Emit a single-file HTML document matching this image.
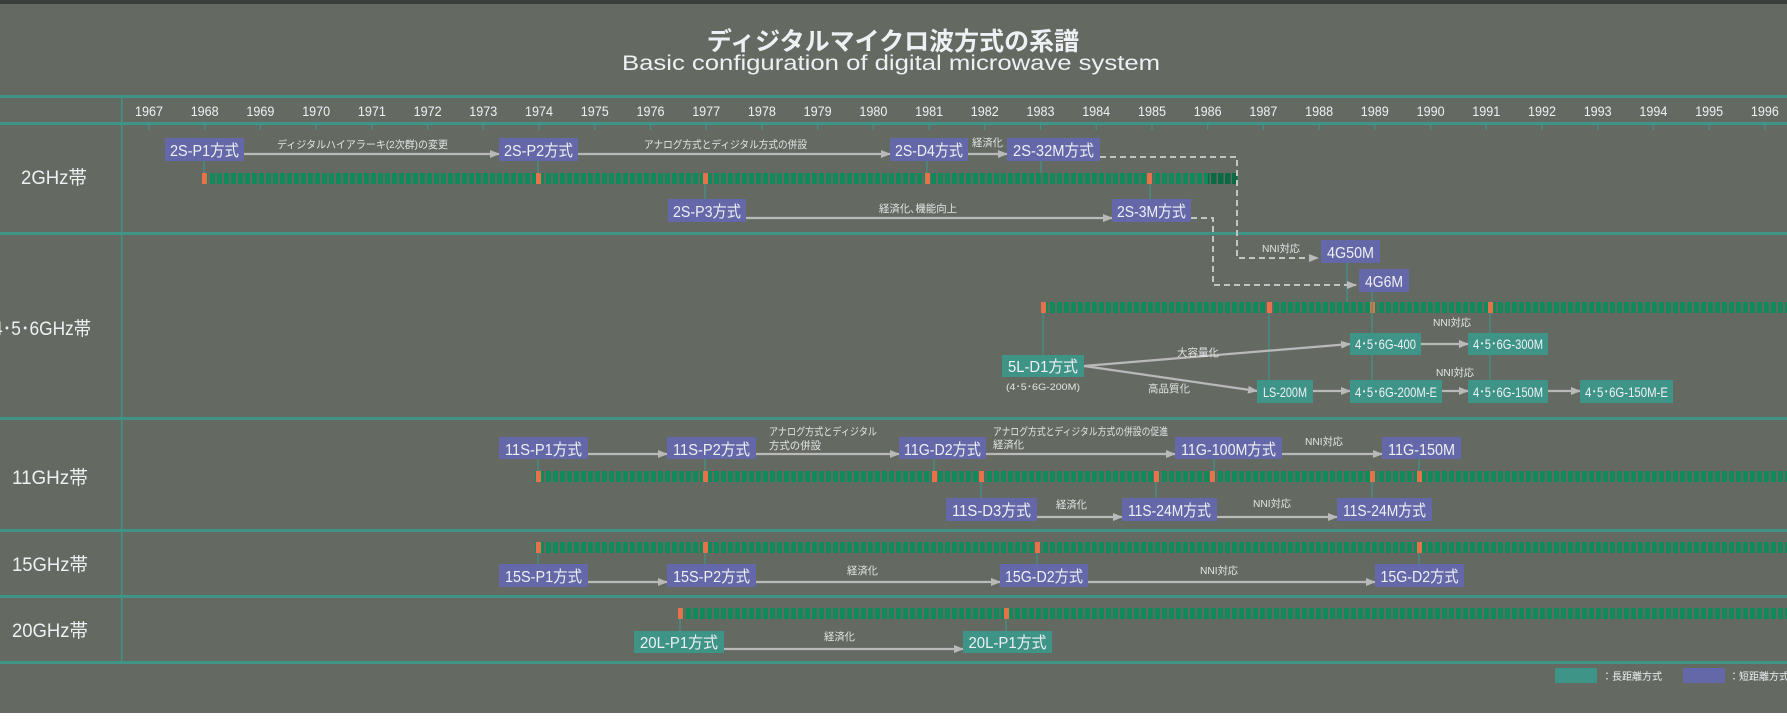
<!DOCTYPE html>
<html><head><meta charset="utf-8"><style>
html,body{margin:0;padding:0;background:#fff}
svg{display:block}
text{font-family:"Liberation Sans","Noto Sans CJK JP",sans-serif;fill:#eef0f4}
.b{font-size:16px;text-anchor:middle}
.l{font-size:10.5px;fill:#e4e4e4}
.y{font-size:14px;text-anchor:middle}
.r{font-size:19px;text-anchor:middle}
</style></head><body>
<svg width="1787" height="720" viewBox="0 0 1787 720" xmlns="http://www.w3.org/2000/svg">
<defs>
<pattern id="g" x="0" y="0" width="7" height="20" patternUnits="userSpaceOnUse"><rect x="0" y="0" width="5" height="20" fill="#0f8a5a"/></pattern>
<pattern id="dg" x="0" y="0" width="7" height="20" patternUnits="userSpaceOnUse"><rect x="0" y="0" width="5.5" height="20" fill="#0a6a44"/></pattern>
<marker id="a" markerWidth="10" markerHeight="8" refX="9" refY="4" orient="auto" markerUnits="userSpaceOnUse"><path d="M0,0 L10,4 L0,8z" fill="#b9b9b9"/></marker>
</defs>
<rect width="1787" height="713" fill="#646a62"/>
<rect width="1787" height="4" fill="#3c3e3c"/>
<text x="893" y="50" style="font-family:'Noto Sans CJK JP',sans-serif;font-size:25px;font-weight:bold;text-anchor:middle">ディジタルマイクロ波方式の系譜</text>
<text x="622" y="70" textLength="538" lengthAdjust="spacingAndGlyphs" style="font-size:21px">Basic configuration of digital microwave system</text>
<g fill="#3f9488">
<rect x="0" y="95" width="1787" height="3"/>
<rect x="0" y="122" width="1787" height="3"/>
<rect x="0" y="232" width="1787" height="3"/>
<rect x="0" y="417" width="1787" height="3"/>
<rect x="0" y="529" width="1787" height="3"/>
<rect x="0" y="595" width="1787" height="3"/>
<rect x="0" y="661" width="1787" height="3"/>
<rect x="121" y="95" width="1.5" height="568"/>
</g>
<g stroke="#3f9488" stroke-width="1.2">
<path d="M149 124v6M204.7 124v6M260.4 124v6M316.2 124v6M371.9 124v6M427.6 124v6M483.3 124v6M539 124v6M594.8 124v6M650.5 124v6M706.2 124v6M761.9 124v6M817.6 124v6M873.4 124v6M929.1 124v6M984.8 124v6M1040.5 124v6M1096.2 124v6M1152 124v6M1207.7 124v6M1263.4 124v6M1319.1 124v6M1374.8 124v6M1430.6 124v6M1486.3 124v6M1542 124v6M1597.7 124v6M1653.4 124v6M1709.2 124v6M1764.9 124v6"/>
</g>
<g>
<text class="y" x="149" y="116" textLength="28" lengthAdjust="spacingAndGlyphs">1967</text><text class="y" x="204.7" y="116" textLength="28" lengthAdjust="spacingAndGlyphs">1968</text><text class="y" x="260.4" y="116" textLength="28" lengthAdjust="spacingAndGlyphs">1969</text><text class="y" x="316.2" y="116" textLength="28" lengthAdjust="spacingAndGlyphs">1970</text><text class="y" x="371.9" y="116" textLength="28" lengthAdjust="spacingAndGlyphs">1971</text><text class="y" x="427.6" y="116" textLength="28" lengthAdjust="spacingAndGlyphs">1972</text><text class="y" x="483.3" y="116" textLength="28" lengthAdjust="spacingAndGlyphs">1973</text><text class="y" x="539" y="116" textLength="28" lengthAdjust="spacingAndGlyphs">1974</text><text class="y" x="594.8" y="116" textLength="28" lengthAdjust="spacingAndGlyphs">1975</text><text class="y" x="650.5" y="116" textLength="28" lengthAdjust="spacingAndGlyphs">1976</text><text class="y" x="706.2" y="116" textLength="28" lengthAdjust="spacingAndGlyphs">1977</text><text class="y" x="761.9" y="116" textLength="28" lengthAdjust="spacingAndGlyphs">1978</text><text class="y" x="817.6" y="116" textLength="28" lengthAdjust="spacingAndGlyphs">1979</text><text class="y" x="873.4" y="116" textLength="28" lengthAdjust="spacingAndGlyphs">1980</text><text class="y" x="929.1" y="116" textLength="28" lengthAdjust="spacingAndGlyphs">1981</text><text class="y" x="984.8" y="116" textLength="28" lengthAdjust="spacingAndGlyphs">1982</text><text class="y" x="1040.5" y="116" textLength="28" lengthAdjust="spacingAndGlyphs">1983</text><text class="y" x="1096.2" y="116" textLength="28" lengthAdjust="spacingAndGlyphs">1984</text><text class="y" x="1152" y="116" textLength="28" lengthAdjust="spacingAndGlyphs">1985</text><text class="y" x="1207.7" y="116" textLength="28" lengthAdjust="spacingAndGlyphs">1986</text><text class="y" x="1263.4" y="116" textLength="28" lengthAdjust="spacingAndGlyphs">1987</text><text class="y" x="1319.1" y="116" textLength="28" lengthAdjust="spacingAndGlyphs">1988</text><text class="y" x="1374.8" y="116" textLength="28" lengthAdjust="spacingAndGlyphs">1989</text><text class="y" x="1430.6" y="116" textLength="28" lengthAdjust="spacingAndGlyphs">1990</text><text class="y" x="1486.3" y="116" textLength="28" lengthAdjust="spacingAndGlyphs">1991</text><text class="y" x="1542" y="116" textLength="28" lengthAdjust="spacingAndGlyphs">1992</text><text class="y" x="1597.7" y="116" textLength="28" lengthAdjust="spacingAndGlyphs">1993</text><text class="y" x="1653.4" y="116" textLength="28" lengthAdjust="spacingAndGlyphs">1994</text><text class="y" x="1709.2" y="116" textLength="28" lengthAdjust="spacingAndGlyphs">1995</text><text class="y" x="1764.9" y="116" textLength="28" lengthAdjust="spacingAndGlyphs">1996</text>
</g>
<text class="r" x="54" y="184" textLength="66" lengthAdjust="spacingAndGlyphs">2GHz帯</text>
<text class="r" x="42" y="335" textLength="98" lengthAdjust="spacingAndGlyphs">4･5･6GHz帯</text>
<text class="r" x="50" y="484" textLength="76" lengthAdjust="spacingAndGlyphs">11GHz帯</text>
<text class="r" x="50" y="571" textLength="76" lengthAdjust="spacingAndGlyphs">15GHz帯</text>
<text class="r" x="50" y="637" textLength="76" lengthAdjust="spacingAndGlyphs">20GHz帯</text>
<rect x="202" y="173" width="1006" height="11" fill="url(#g)"/>
<rect x="1208" y="173" width="30" height="11" fill="url(#dg)"/>
<rect x="1041" y="302" width="746" height="11" fill="url(#g)"/>
<rect x="535" y="471" width="1252" height="11" fill="url(#g)"/>
<rect x="535" y="542" width="1252" height="11" fill="url(#g)"/>
<rect x="677" y="608" width="1110" height="11" fill="url(#g)"/>
<g fill="#e8704a">
<rect x="202" y="173" width="5" height="11"/><rect x="536" y="173" width="5" height="11"/><rect x="703" y="173" width="5" height="11"/><rect x="925" y="173" width="5" height="11"/><rect x="1147" y="173" width="5" height="11"/>
<rect x="1041" y="302" width="5" height="11"/><rect x="1267" y="302" width="5" height="11"/><rect x="1370" y="302" width="5" height="11"/><rect x="1488" y="302" width="5" height="11"/>
<rect x="536" y="471" width="5" height="11"/><rect x="703" y="471" width="5" height="11"/><rect x="932" y="471" width="5" height="11"/><rect x="979" y="471" width="5" height="11"/><rect x="1154" y="471" width="5" height="11"/><rect x="1210" y="471" width="5" height="11"/><rect x="1370" y="471" width="5" height="11"/><rect x="1417" y="471" width="5" height="11"/>
<rect x="536" y="542" width="5" height="11"/><rect x="703" y="542" width="5" height="11"/><rect x="1035" y="542" width="5" height="11"/><rect x="1417" y="542" width="5" height="11"/>
<rect x="678" y="608" width="5" height="11"/><rect x="1004" y="608" width="5" height="11"/>
</g>
<g stroke="#3f9488" stroke-width="1.2">
<path d="M204 161v12M538 161v12M927 161v12M1041 161v12M705 184v15M1150 184v15"/>
<path d="M1347 263v39M1372 292v41M1043 313v42M1269 313v67M1372 355v25M1490 313v20M1490 355v25"/>
<path d="M538 459v12M705 459v12M934 459v12M1214 459v12M1419 459v12M981 482v16M1156 482v16M1372 482v16"/>
<path d="M538 553v11M705 553v11M1037 553v11M1419 553v11M680 619v12M1006 619v12"/>
</g>
<g stroke="#b9b9b9" stroke-width="2.2" fill="none" marker-end="url(#a)">
<path d="M244 154H499"/><path d="M578 154H890"/><path d="M968 154H1007"/>
<path d="M746 218H1112"/>
<path d="M1084 366L1350 344"/><path d="M1084 366L1257 391"/>
<path d="M1421 344H1468"/><path d="M1313 391H1350"/><path d="M1442 391H1468"/><path d="M1548 391H1580"/>
<path d="M588 454H667"/><path d="M756 454H899"/><path d="M986 454H1175"/><path d="M1282 454H1382"/>
<path d="M1037 517H1122"/><path d="M1217 517H1337"/>
<path d="M588 582H667"/><path d="M756 582H1000"/><path d="M1088 582H1375"/>
<path d="M724 649H963"/>
</g>
<g stroke="#c4c4c4" stroke-width="2" fill="none" stroke-dasharray="6,4">
<path d="M1100 157H1237V258H1318" marker-end="url(#a)"/>
<path d="M1191 218H1213V285H1356" marker-end="url(#a)"/>
</g>
<text class="l" x="277" y="148" textLength="171" lengthAdjust="spacingAndGlyphs">ディジタルハイアラーキ(2次群)の変更</text>
<text class="l" x="644" y="148" textLength="163" lengthAdjust="spacingAndGlyphs">アナログ方式とディジタル方式の併設</text>
<text class="l" x="972" y="146" textLength="31" lengthAdjust="spacingAndGlyphs">経済化</text>
<text class="l" x="879" y="212" textLength="78" lengthAdjust="spacingAndGlyphs">経済化､機能向上</text>
<text class="l" x="1262" y="252" textLength="38" lengthAdjust="spacingAndGlyphs">NNI対応</text>
<text class="l" x="1177" y="356">大容量化</text>
<text class="l" x="1148" y="392">高品質化</text>
<text class="l" x="1433" y="326" textLength="38" lengthAdjust="spacingAndGlyphs">NNI対応</text>
<text class="l" x="1436" y="376" textLength="38" lengthAdjust="spacingAndGlyphs">NNI対応</text>
<text class="l" x="769" y="435" textLength="108" lengthAdjust="spacingAndGlyphs">アナログ方式とディジタル</text>
<text class="l" x="769" y="449" textLength="52" lengthAdjust="spacingAndGlyphs">方式の併設</text>
<text class="l" x="993" y="435" textLength="175" lengthAdjust="spacingAndGlyphs">アナログ方式とディジタル方式の併設の促進</text>
<text class="l" x="993" y="448" textLength="31" lengthAdjust="spacingAndGlyphs">経済化</text>
<text class="l" x="1305" y="445" textLength="38" lengthAdjust="spacingAndGlyphs">NNI対応</text>
<text class="l" x="1056" y="508" textLength="31" lengthAdjust="spacingAndGlyphs">経済化</text>
<text class="l" x="1253" y="507" textLength="38" lengthAdjust="spacingAndGlyphs">NNI対応</text>
<text class="l" x="847" y="574" textLength="31" lengthAdjust="spacingAndGlyphs">経済化</text>
<text class="l" x="1200" y="574" textLength="38" lengthAdjust="spacingAndGlyphs">NNI対応</text>
<text class="l" x="824" y="640" textLength="31" lengthAdjust="spacingAndGlyphs">経済化</text>
<text class="l" x="1006" y="390" style="font-size:9.5px" textLength="74" lengthAdjust="spacingAndGlyphs">(4･5･6G-200M)</text>
<g fill="#6468a8">
<rect x="165" y="138" width="79" height="23"/><rect x="499" y="138" width="79" height="23"/><rect x="890" y="138" width="78" height="23"/><rect x="1007" y="138" width="93" height="23"/>
<rect x="668" y="199" width="78" height="23"/><rect x="1112" y="199" width="79" height="23"/>
<rect x="1321" y="240" width="59" height="23"/><rect x="1359" y="269" width="50" height="23"/>
<rect x="499" y="437" width="89" height="22"/><rect x="667" y="437" width="89" height="22"/><rect x="899" y="437" width="87" height="22"/><rect x="1175" y="437" width="107" height="22"/><rect x="1382" y="437" width="79" height="22"/>
<rect x="946" y="498" width="91" height="23"/><rect x="1122" y="498" width="95" height="23"/><rect x="1337" y="498" width="95" height="23"/>
<rect x="499" y="564" width="89" height="23"/><rect x="667" y="564" width="89" height="23"/><rect x="1000" y="564" width="88" height="23"/><rect x="1375" y="564" width="89" height="23"/>
<rect x="1683" y="668" width="42" height="15"/>
</g>
<g fill="#3f9488">
<rect x="1002" y="355" width="82" height="22"/><rect x="1257" y="380" width="56" height="23"/>
<rect x="1350" y="333" width="71" height="22"/><rect x="1468" y="333" width="80" height="22"/>
<rect x="1350" y="380" width="92" height="23"/><rect x="1468" y="380" width="80" height="23"/><rect x="1580" y="380" width="93" height="23"/>
<rect x="634" y="631" width="90" height="22"/><rect x="963" y="631" width="89" height="22"/>
<rect x="1555" y="668" width="42" height="15"/>
</g>
<g lengthAdjust="spacingAndGlyphs">
<text class="b" x="204.5" y="156" textLength="69" lengthAdjust="spacingAndGlyphs">2S-P1方式</text>
<text class="b" x="538.5" y="156" textLength="69" lengthAdjust="spacingAndGlyphs">2S-P2方式</text>
<text class="b" x="929" y="156" textLength="68" lengthAdjust="spacingAndGlyphs">2S-D4方式</text>
<text class="b" x="1053.5" y="156" textLength="81" lengthAdjust="spacingAndGlyphs">2S-32M方式</text>
<text class="b" x="707" y="217" textLength="68" lengthAdjust="spacingAndGlyphs">2S-P3方式</text>
<text class="b" x="1151.5" y="217" textLength="69" lengthAdjust="spacingAndGlyphs">2S-3M方式</text>
<text class="b" x="1350.5" y="258" textLength="47" lengthAdjust="spacingAndGlyphs">4G50M</text>
<text class="b" x="1384" y="287" textLength="38" lengthAdjust="spacingAndGlyphs">4G6M</text>
<text class="b" x="1043" y="372" textLength="70" lengthAdjust="spacingAndGlyphs">5L-D1方式</text>
<text class="b" x="1285" y="397" style="font-size:14px" textLength="44" lengthAdjust="spacingAndGlyphs">LS-200M</text>
<text class="b" x="1385.5" y="349" style="font-size:14px" textLength="61" lengthAdjust="spacingAndGlyphs">4･5･6G-400</text>
<text class="b" x="1508" y="349" style="font-size:14px" textLength="70" lengthAdjust="spacingAndGlyphs">4･5･6G-300M</text>
<text class="b" x="1396" y="397" style="font-size:14px" textLength="82" lengthAdjust="spacingAndGlyphs">4･5･6G-200M-E</text>
<text class="b" x="1508" y="397" style="font-size:14px" textLength="70" lengthAdjust="spacingAndGlyphs">4･5･6G-150M</text>
<text class="b" x="1626.5" y="397" style="font-size:14px" textLength="83" lengthAdjust="spacingAndGlyphs">4･5･6G-150M-E</text>
<text class="b" x="543.5" y="455" textLength="77" lengthAdjust="spacingAndGlyphs">11S-P1方式</text>
<text class="b" x="711.5" y="455" textLength="77" lengthAdjust="spacingAndGlyphs">11S-P2方式</text>
<text class="b" x="942.5" y="455" textLength="77" lengthAdjust="spacingAndGlyphs">11G-D2方式</text>
<text class="b" x="1228.5" y="455" textLength="95" lengthAdjust="spacingAndGlyphs">11G-100M方式</text>
<text class="b" x="1421.5" y="455" textLength="67" lengthAdjust="spacingAndGlyphs">11G-150M</text>
<text class="b" x="991.5" y="516" textLength="79" lengthAdjust="spacingAndGlyphs">11S-D3方式</text>
<text class="b" x="1169.5" y="516" textLength="83" lengthAdjust="spacingAndGlyphs">11S-24M方式</text>
<text class="b" x="1384.5" y="516" textLength="83" lengthAdjust="spacingAndGlyphs">11S-24M方式</text>
<text class="b" x="543.5" y="582" textLength="77" lengthAdjust="spacingAndGlyphs">15S-P1方式</text>
<text class="b" x="711.5" y="582" textLength="77" lengthAdjust="spacingAndGlyphs">15S-P2方式</text>
<text class="b" x="1044" y="582" textLength="78" lengthAdjust="spacingAndGlyphs">15G-D2方式</text>
<text class="b" x="1419.5" y="582" textLength="78" lengthAdjust="spacingAndGlyphs">15G-D2方式</text>
<text class="b" x="679" y="648" textLength="78" lengthAdjust="spacingAndGlyphs">20L-P1方式</text>
<text class="b" x="1007.5" y="648" textLength="78" lengthAdjust="spacingAndGlyphs">20L-P1方式</text>
</g>
<text style="font-size:10px" x="1602" y="680">：長距離方式</text>
<text style="font-size:10px" x="1729" y="680">：短距離方式</text>
</svg>
</body></html>
